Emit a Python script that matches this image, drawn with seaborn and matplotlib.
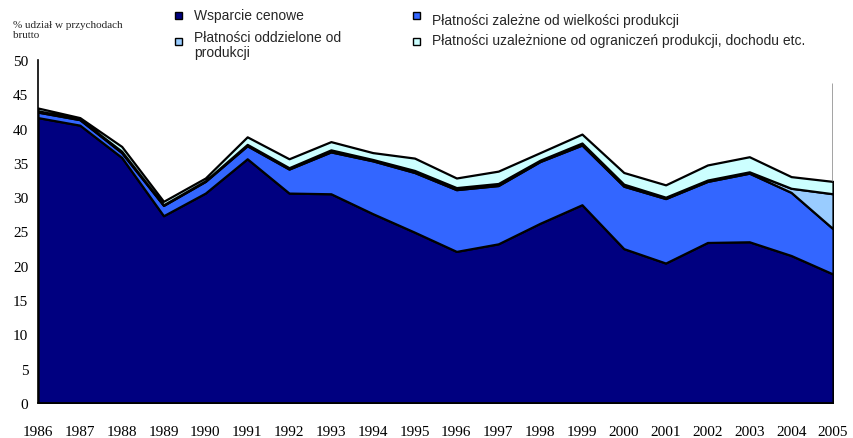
import matplotlib
matplotlib.use("Agg")
import matplotlib.pyplot as plt
import seaborn as sns
from matplotlib.patches import Rectangle

# --- dane ---
lata = list(range(1986, 2006))
wsparcie_cenowe = [41.6, 40.5, 35.8, 27.3, 30.6, 35.6, 30.6, 30.5, 27.6, 24.9,
                   22.1, 23.2, 26.2, 28.9, 22.5, 20.4, 23.4, 23.5, 21.5, 18.8]
zalezne_od_produkcji = [0.8, 0.8, 0.7, 1.5, 1.7, 1.9, 3.5, 6.1, 7.7, 8.7,
                        9.0, 8.5, 9.0, 8.7, 9.1, 9.4, 8.9, 10.0, 9.2, 6.6]
oddzielone_od_produkcji = [0.2, 0.1, 0.2, 0.1, 0.1, 0.2, 0.2, 0.3, 0.2, 0.3,
                           0.3, 0.3, 0.2, 0.3, 0.3, 0.2, 0.2, 0.2, 0.6, 5.1]
uzaleznione_od_ograniczen = [0.4, 0.2, 0.7, 0.5, 0.4, 1.1, 1.3, 1.2, 1.0, 1.8,
                             1.4, 1.8, 1.1, 1.3, 1.7, 1.8, 2.2, 2.2, 1.7, 1.8]

etykiety = ["Wsparcie cenowe",
            "Płatności zależne od wielkości produkcji",
            "Płatności oddzielone od\nprodukcji",
            "Płatności uzależnione od ograniczeń produkcji, dochodu etc."]
kolory = ["#000080", "#3366FF", "#99CCFF", "#CCFFFF"]

sns.set_style("white")
plt.rcParams["font.family"] = ["Liberation Serif", "DejaVu Serif"]

W, H = 854, 439
fig = plt.figure(figsize=(W / 100, H / 100), dpi=100)
ax = fig.add_axes([38 / W, 1 - 404 / H, (833 - 38) / W, (404 - 61) / H])

ax.stackplot(lata, wsparcie_cenowe, zalezne_od_produkcji,
             oddzielone_od_produkcji, uzaleznione_od_ograniczen,
             colors=kolory, edgecolor="black", linewidth=1.6)

# szara pionowa linia przy prawej krawędzi
suma_2005 = (wsparcie_cenowe[-1] + zalezne_od_produkcji[-1]
             + oddzielone_od_produkcji[-1] + uzaleznione_od_ograniczen[-1])
ax.plot([lata[-1], lata[-1]], [suma_2005, 46.6], color="#888888", lw=1.8,
        solid_capstyle="butt")

ax.set_xlim(1986, 2005)
ax.set_ylim(0, 50)
ax.set_xticks(lata)
ax.set_yticks(range(0, 51, 5))
ax.tick_params(axis="x", direction="out", length=4, width=1, pad=12,
               labelsize=11, colors="black")
ax.tick_params(axis="y", direction="out", length=4, width=1, pad=3,
               labelsize=11, colors="black")
for side in ["top", "right"]:
    ax.spines[side].set_visible(False)
for side in ["left", "bottom"]:
    ax.spines[side].set_color("black")
    ax.spines[side].set_linewidth(1.2)
ax.grid(False)

# opis osi y
fig.text(13 / W, 1 - 21 / H, "% udział w przychodach\nbrutto", fontsize=8,
         va="top", ha="left", linespacing=1.15)

# legenda rysowana ręcznie (jak w Excelu)
sans = ["Liberation Sans", "DejaVu Sans"]
legenda = [(175, 16, 194, 16, "center"),
           (413, 16, 432, 21, "center"),
           (175, 42, 194, 31, "top"),
           (413, 42, 432, 41, "center")]
kolejnosc = [0, 1, 2, 3]
for i, (mx, my, tx, ty, va) in zip(kolejnosc, legenda):
    fig.patches.append(Rectangle((mx / W, 1 - (my + 3.5) / H), 7 / W, 7 / H,
                                 transform=fig.transFigure, facecolor=kolory[i],
                                 edgecolor="black", linewidth=1.0))
    fig.text(tx / W, 1 - ty / H, etykiety[i], fontsize=10, family=sans,
             va=va, ha="left", linespacing=1.1)

fig.savefig("out.png", dpi=100)
